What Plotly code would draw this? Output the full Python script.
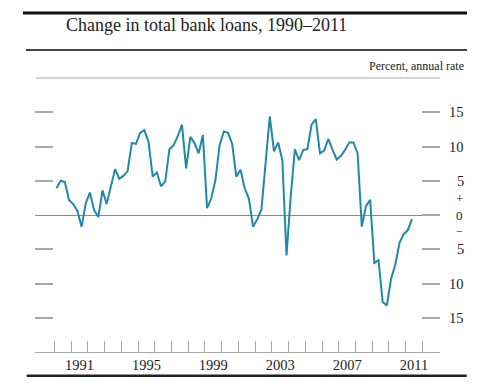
import plotly.graph_objects as go

# Quarterly change in total bank loans, percent annual rate, 1990Q1-2011Q2
start_year = 1990
loan_change = [
    3.9, 5.0, 4.8, 2.2, 1.6, 0.6, -1.7, 1.7, 3.3, 0.7,
    -0.3, 3.6, 1.6, 4.2, 6.7, 5.3, 5.7, 6.4, 10.5, 10.4,
    12.0, 12.4, 10.7, 5.6, 6.2, 4.2, 4.9, 9.6, 10.2, 11.5,
    13.2, 6.8, 11.4, 10.5, 9.0, 11.7, 1.0, 2.4, 5.1, 10.2,
    12.2, 12.0, 10.4, 5.6, 6.6, 3.9, 2.4, -1.7, -0.6, 0.8,
    7.6, 14.4, 9.3, 10.6, 8.0, -5.9, 2.7, 9.6, 8.0, 9.5,
    9.6, 13.2, 14.0, 9.0, 9.4, 11.1, 9.5, 8.1, 8.6, 9.5,
    10.6, 10.6, 9.0, -1.7, 1.3, 2.2, -7.0, -6.6, -12.7, -13.2,
    -9.3, -7.3, -4.1, -2.8, -2.2, -0.6,
]
# mid-quarter positions on a numeric year axis
quarter_x = [start_year + i * 0.25 + 0.125 for i in range(len(loan_change))]

year_ticks = list(range(1990, 2013))
label_years = [1991, 1995, 1999, 2003, 2007, 2011]
y_ticks = [-15, -10, -5, 5, 10, 15]
y_labels = ["15", "10", "5", "5", "10", "15"]

FONT = "Liberation Serif"
LINE = "#2189a8"
TICK = "#a8a8a8"
TXT = "#222"

# page body has an 8px margin; figure is sized to fit the window
OFF = 8
W, H = 493 - OFF, 391 - OFF

fig = go.Figure()
fig.add_trace(go.Scatter(x=quarter_x, y=loan_change, mode="lines",
                         line=dict(color=LINE, width=2), hoverinfo="skip",
                         showlegend=False))
# invisible trace to activate right y axis
fig.add_trace(go.Scatter(x=[quarter_x[0]], y=[0], yaxis="y2", mode="lines",
                         line=dict(width=0), showlegend=False, hoverinfo="skip"))

x_range = [1988.84, 2013.05]
y_range = [-20, 20]

fig.update_layout(
    width=W, height=H,
    margin=dict(l=35 - OFF, r=W - (440 - OFF), t=78 - OFF, b=H - (351.7 - OFF)),
    paper_bgcolor="white", plot_bgcolor="white",
    font=dict(family=FONT, color=TXT),
    title=dict(text="Change in total bank loans, 1990\u20132011",
               x=(66 - OFF) / W, xref="container", xanchor="left",
               y=1 - (25 - OFF) / H, yref="container", yanchor="middle",
               font=dict(family=FONT, size=18, color=TXT)),
    xaxis=dict(range=x_range, showgrid=False, zeroline=False,
               showline=True, linecolor=TICK, linewidth=1,
               tickvals=[y + 0.5 for y in label_years],
               ticktext=[str(y) for y in label_years],
               ticks="", ticklen=0,
               tickfont=dict(family=FONT, size=14.5, color=TXT),
               minor=dict(tickvals=year_ticks, ticks="inside", ticklen=11,
                          tickcolor=TICK, tickwidth=1, showgrid=False)),
    yaxis=dict(range=y_range, showgrid=False, showline=False,
               zeroline=True, zerolinecolor="#8a8a8a", zerolinewidth=1,
               tickvals=y_ticks, ticks="inside", ticklen=18,
               tickcolor=TICK, tickwidth=1.5, showticklabels=False),
    yaxis2=dict(range=y_range, overlaying="y", side="right",
                showgrid=False, showline=False, zeroline=False,
                tickvals=y_ticks + [0], ticks="inside", ticklen=18,
                tickcolor=TICK, tickwidth=1.5, showticklabels=False),
)

# right-hand labels (right-aligned)
label_x = (466 - 35) / 405
for v, t in zip(y_ticks, y_labels):
    fig.add_annotation(x=label_x, xref="paper", y=v, yref="y", text=t,
                       showarrow=False, xanchor="right", yanchor="middle",
                       font=dict(family=FONT, size=14.5, color=TXT))
zx = label_x - 0.006
fig.add_annotation(x=zx, xref="paper", y=0, yref="y", text="0",
                   showarrow=False, xanchor="right", yanchor="middle",
                   borderpad=0, font=dict(family=FONT, size=13, color=TXT))
fig.add_annotation(x=zx, xref="paper", y=2.4, yref="y", text="+",
                   showarrow=False, xanchor="right", yanchor="middle",
                   borderpad=0, font=dict(family=FONT, size=13, color=TXT))
fig.add_annotation(x=zx, xref="paper", y=-2.35, yref="y", text="\u2212",
                   showarrow=False, xanchor="right", yanchor="middle",
                   borderpad=0, font=dict(family=FONT, size=12, color=TXT))

fig.add_annotation(x=(466 - 35) / 405, xref="paper", y=(351.7 - 66) / 273.7, yref="paper",
                   text="Percent, annual rate", showarrow=False,
                   xanchor="right", yanchor="middle",
                   font=dict(family=FONT, size=12, color=TXT))

def pline(x0, x1, y, color, width):
    fig.add_shape(type="line", xref="paper", yref="paper",
                  x0=(x0 - 35) / 405, x1=(x1 - 35) / 405,
                  y0=(351.7 - y) / 273.7, y1=(351.7 - y) / 273.7,
                  line=dict(color=color, width=width), layer="above")

pline(23, 467, 13, "#111", 3)
pline(26, 467, 50, "#444", 2)
pline(36, 440, 78, "#d4d4d4", 2)
pline(26.7, 466.7, 375.5, "#222", 2.5)

fig.write_html("out.html")
